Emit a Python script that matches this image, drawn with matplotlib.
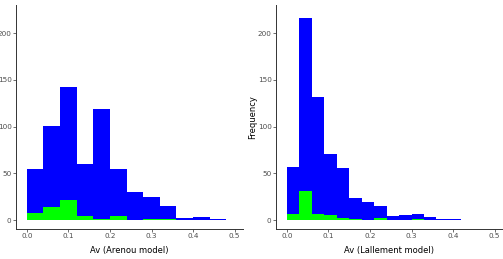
import numpy as np
import matplotlib
matplotlib.use("Agg")
import matplotlib.pyplot as plt

# Arenou model histogram (bin width 0.04)
arenou_edges = np.arange(0, 0.48 + 1e-9, 0.04)
arenou_all = [55, 101, 142, 60, 119, 55, 30, 25, 15, 2, 3, 1]
arenou_sub = [8, 14, 21, 4, 1, 4, 0, 1, 1, 0, 0, 0]

# Lallement model histogram (bin width 0.03)
lall_edges = np.arange(0, 0.42 + 1e-9, 0.03)
lall_all = [57, 216, 132, 71, 56, 24, 19, 15, 4, 5, 6, 3, 1, 1]
lall_sub = [6, 31, 6, 5, 2, 1, 0, 2, 0, 0, 1, 0, 0, 0]

xticks = [0.0, 0.1, 0.2, 0.3, 0.4, 0.5]
yticks = [0, 50, 100, 150, 200]

W, H = 503, 259
fig = plt.figure(figsize=(W / 100, H / 100), dpi=100)


def panel(rect, edges, allc, subc, xlabel, ylab_x):
    ax = fig.add_axes(rect)
    w = edges[1] - edges[0]
    ax.bar(edges[:-1], allc, width=w, align="edge", color="#0000ff",
           linewidth=0)
    ax.bar(edges[:-1], subc, width=w, align="edge", color="#00ff00",
           linewidth=0)
    ax.set_xlim(-0.026, 0.52)
    ax.set_ylim(-9.6, 230)
    ax.set_xticks(xticks)
    ax.set_xticklabels(["0.0", "0.1", "0.2", "0.3", "0.4", "0.5"])
    ax.set_yticks(yticks)
    for s in ["top", "right"]:
        ax.spines[s].set_visible(False)
    for s in ["left", "bottom"]:
        ax.spines[s].set_color("#333333")
        ax.spines[s].set_linewidth(0.7)
    ax.tick_params(labelsize=5.2, colors="#333333", length=2, width=0.5,
                   labelcolor="#4d4d4d", pad=1.2)
    ax.set_xlabel(xlabel, fontsize=6, labelpad=5)
    ax.set_ylabel("Frequency", fontsize=6)
    ax.yaxis.set_label_coords(ylab_x, 0.5)
    return ax


bot = 30 / H
hgt = (229 - 5) / H
panel([16 / W, bot, 227 / W, hgt], arenou_edges, arenou_all, arenou_sub,
      "Av (Arenou model)", -0.085)
panel([276 / W, bot, 227 / W, hgt], lall_edges, lall_all, lall_sub,
      "Av (Lallement model)", -0.085)

fig.savefig("out.png", dpi=100)
